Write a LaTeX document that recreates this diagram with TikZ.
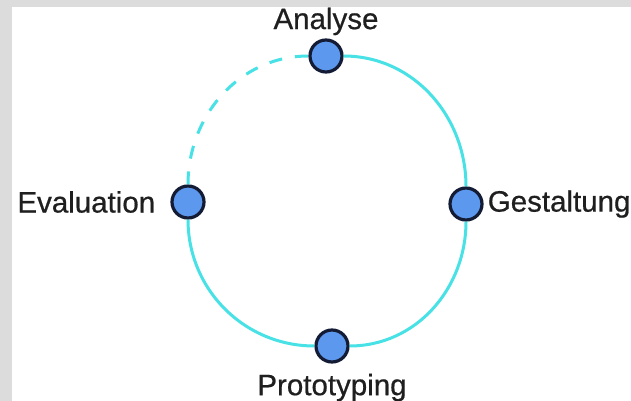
\documentclass[tikz,border=0pt]{standalone}
\usepackage{fontspec}
\setmainfont{Liberation Sans}[FakeBold=0.6]
\usetikzlibrary{positioning}

\definecolor{framegray}{HTML}{DCDCDC}
\definecolor{ringcyan}{HTML}{48E2E6}
\definecolor{dotblue}{HTML}{5B98EE}
\definecolor{dotline}{HTML}{131C34}

\begin{document}
\begin{tikzpicture}[x=1pt, y=1pt,
    phase/.style={circle, draw=dotline, fill=dotblue, line width=3.2pt, minimum size=32pt, inner sep=0pt},
    phasename/.style={inner sep=0pt, text=black!88, font=\fontsize{29.5}{35}\selectfont},
    ring/.style={ringcyan, line width=3pt}]
    \useasboundingbox (0,0) rectangle (631,401);
    \fill[framegray] (0,0) rectangle (631,401);
    \fill[white] (12,0) rectangle (631,394);

    \node[phase] (A) at (326,345) {};
    \node[phase] (G) at (466,197) {};
    \node[phase] (P) at (332,55) {};
    \node[phase] (E) at (188,199) {};
    \node[phasename, above =3pt of A] {Analyse};
    \node[phasename, right =4pt of G] {Gestaltung};
    \node[phasename, below =10pt of P] {Prototyping};
    \node[phasename, left =15pt of E] {Evaluation};

    \draw[ring] (A) to[out=0, in=90] (G);
    \draw[ring] (G) to[out=-90, in=0] (P);
    \draw[ring] (P) to[out=180, in=-90] (E);
    \draw[ring, dash pattern=on 13pt off 13pt] (E) to[out=90, in=180] (A);
\end{tikzpicture}
\end{document}
